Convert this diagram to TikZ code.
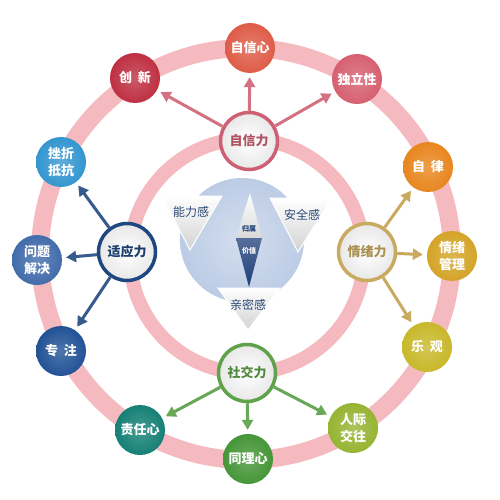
\documentclass[tikz,border=0pt]{standalone}
\usepackage{fontspec}
\setmainfont{Noto Sans CJK SC}
\usepackage{tikz}
\usetikzlibrary{arrows.meta,shapes,positioning,shadows}
\definecolor{ringpink}{RGB}{245,186,192}
\definecolor{diskblue}{RGB}{188,204,229}
\definecolor{feelnavy}{RGB}{44,74,120}
\definecolor{kitenavy}{RGB}{30,62,120}
% inner ring colours
\definecolor{zxred}{RGB}{206,96,116}
\definecolor{syblue}{RGB}{32,72,128}
\definecolor{qxgold}{RGB}{200,170,96}
\definecolor{sjgreen}{RGB}{96,162,76}
% outer ball colours
\definecolor{cxin}{RGB}{222,92,72}
\definecolor{cinno}{RGB}{190,48,66}
\definecolor{cindep}{RGB}{214,96,112}
\definecolor{cfrust}{RGB}{52,150,208}
\definecolor{cprob}{RGB}{66,108,170}
\definecolor{cfocus}{RGB}{34,82,150}
\definecolor{cresp}{RGB}{22,128,118}
\definecolor{cempa}{RGB}{70,150,55}
\definecolor{csocial}{RGB}{150,180,50}
\definecolor{coptim}{RGB}{200,184,42}
\definecolor{cemo}{RGB}{212,164,40}
\definecolor{cdisc}{RGB}{232,134,30}
\tikzstyle{arrow} = [line width=3pt,-{Triangle[length=10pt,width=11pt]},shorten >=4pt]
\tikzstyle{feel} = [text=feelnavy,font=\fontsize{12}{14}\selectfont]
\tikzset{
  ball/.style={circle,minimum size=50pt,inner sep=0pt,align=center,
    inner color=#1!80!white,outer color=#1,text=white,
    font=\fontsize{13}{17}\selectfont\bfseries},
  hub/.style={circle,minimum size=57pt,inner sep=0pt,line width=3.5pt,draw=#1,
    inner color=white,outer color=gray!18,text=#1!85!black,
    font=\fontsize{13}{15}\selectfont\bfseries}
}

\begin{document}
\begin{tikzpicture}[x=1pt,y=-1pt]
\useasboundingbox[fill=white] (0,0) rectangle (500,500);

% Rings
\draw[ringpink, line width=18pt] (246,254) circle (206);
\draw[ringpink, line width=14pt] (247,256) circle (117);

% Centre disk and triangles
\shade[inner color=diskblue!65!white, outer color=diskblue] (242,240) circle (62);
\shade[top color=white, bottom color=gray!35, draw=white, line width=1pt]
  (162,196) -- (222,196) -- (190,250) -- cycle;
\shade[top color=white, bottom color=gray!35, draw=white, line width=1pt]
  (270,198) -- (332,198) -- (298,252) -- cycle;
\shade[top color=white, bottom color=gray!35, draw=white, line width=1pt]
  (218,288) -- (280,288) -- (248,330) -- cycle;
\shade[top color=white, bottom color=gray!30] (250,193) -- (262,238) -- (236,238) -- cycle;
\shade[top color=kitenavy!75, bottom color=kitenavy] (236,238) -- (262,238) -- (249,287) -- cycle;

% Labels in the centre
\node[feel] (nlg) at (191,212) {能力感};
\node[feel] (aqg) at (302,215) {安全感};
\node[feel] (qmg) at (248,305) {亲密感};
\node[text=kitenavy, font=\fontsize{7}{8}\selectfont\bfseries] (gs) at (249,229) {归属};
\node[text=white, font=\fontsize{7}{8}\selectfont\bfseries] (jz) at (249,251) {价值};

% Inner hubs
\node[hub=zxred] (zxl) at (249,141) {自信力};
\node[hub=syblue] (syl) at (127,252) {适应力};
\node[hub=qxgold] (qxl) at (367,252) {情绪力};
\node[hub=sjgreen] (sjl) at (247,373) {社交力};

% Outer balls
\node[ball=cxin] (zxx) at (250,48) {自信心};
\node[ball=cinno] (cx) at (135,78) {创\ \ 新};
\node[ball=cindep] (dlx) at (357,79) {独立性};
\node[ball=cfrust] (czdk) at (61,162) {挫折\\抵抗};
\node[ball=cprob] (wtjj) at (37,260) {问题\\解决};
\node[ball=cfocus] (zz) at (61,351) {专\ \ 注};
\node[ball=cresp] (zrx) at (140,430) {责任心};
\node[ball=cempa] (tlx) at (248,459) {同理心};
\node[ball=csocial] (rjjw) at (353,428) {人际\\交往};
\node[ball=coptim] (lg) at (427,347) {乐\ \ 观};
\node[ball=cemo] (qxgl) at (452,256) {情绪\\管理};
\node[ball=cdisc] (zl) at (428,167) {自\ \ 律};

% Arrows
\foreach \t in {cx,zxx,dlx} \draw[arrow, zxred!90!white] (zxl) -- (\t);
\foreach \t in {czdk,wtjj,zz} \draw[arrow, syblue!90!white] (syl) -- (\t);
\foreach \t in {zl,qxgl,lg} \draw[arrow, qxgold] (qxl) -- (\t);
\foreach \t in {zrx,tlx,rjjw} \draw[arrow, sjgreen!95!white] (sjl) -- (\t);
\end{tikzpicture}
\end{document}
